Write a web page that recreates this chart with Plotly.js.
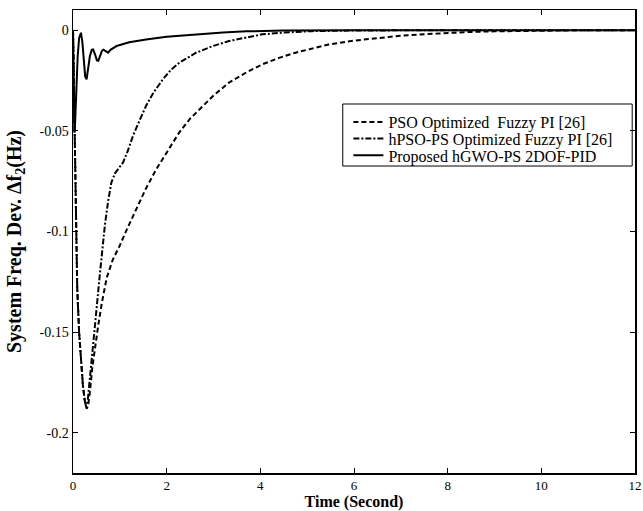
<!DOCTYPE html>
<html>
<head>
<meta charset="utf-8">
<script src="https://cdn.plot.ly/plotly-3.0.1.min.js"></script>
<style>html,body{margin:0;padding:0;background:#fff;}#chart{width:643px;height:511px;}</style>
</head>
<body>
<div id="chart"></div>
<script>
// Proposed hGWO-PS 2DOF-PID (solid)
const tGWO = [0, 0.01, 0.02, 0.03, 0.045, 0.07, 0.1, 0.13, 0.17, 0.2, 0.23, 0.26, 0.29, 0.32, 0.36, 0.4, 0.43, 0.47, 0.51, 0.54, 0.58, 0.62, 0.65, 0.7, 0.75, 0.8, 0.93, 1.2, 1.56, 2.0, 2.63, 3.2, 3.7, 4.5, 6, 8, 10, 12];
const vGWO = [0, -0.02, -0.042, -0.051, -0.046, -0.03, -0.013, -0.004, -0.0013, -0.006, -0.016, -0.023, -0.0245, -0.02, -0.013, -0.0098, -0.0096, -0.012, -0.015, -0.0152, -0.013, -0.0102, -0.0097, -0.0105, -0.0112, -0.0098, -0.0079, -0.006, -0.0046, -0.0033, -0.0021, -0.0012, -0.0006, -0.0002, 0, 0, 0, 0];

// PSO Optimized Fuzzy PI [26] (dashed)
const tPSO = [0, 0.015, 0.03, 0.045, 0.06, 0.09, 0.13, 0.17, 0.21, 0.25, 0.29, 0.32, 0.36, 0.41, 0.47, 0.54, 0.62, 0.72, 0.85, 1.0, 1.15, 1.35, 1.55, 1.78, 2.0, 2.27, 2.5, 2.77, 3.0, 3.33, 3.7, 4.04, 4.4, 4.75, 5.1, 5.46, 6.0, 6.52, 7.0, 7.5, 8.0, 8.5, 9.0, 10, 11, 12];
const vPSO = [0, -0.025, -0.05, -0.075, -0.1, -0.128, -0.15, -0.165, -0.176, -0.184, -0.188, -0.187, -0.18, -0.168, -0.157, -0.1465, -0.135, -0.123, -0.114, -0.107, -0.099, -0.0888, -0.079, -0.069, -0.0605, -0.0508, -0.044, -0.0376, -0.0325, -0.0261, -0.021, -0.017, -0.0138, -0.0112, -0.009, -0.0071, -0.0052, -0.0038, -0.0028, -0.002, -0.0013, -0.0009, -0.0006, -0.0002, 0, 0];

// hPSO-PS Optimized Fuzzy PI [26] (dash-dot)
const tHPSO = [0, 0.015, 0.03, 0.045, 0.06, 0.09, 0.13, 0.17, 0.21, 0.25, 0.28, 0.31, 0.35, 0.4, 0.47, 0.57, 0.68, 0.75, 0.82, 0.9, 1.0, 1.07, 1.17, 1.28, 1.42, 1.56, 1.72, 1.92, 2.1, 2.27, 2.63, 3.0, 3.33, 3.7, 4.04, 4.5, 5.1, 6, 7, 8, 10, 12];
const vHPSO = [0, -0.025, -0.05, -0.075, -0.1, -0.128, -0.15, -0.165, -0.176, -0.184, -0.187, -0.185, -0.176, -0.162, -0.1465, -0.122, -0.097, -0.085, -0.0756, -0.071, -0.068, -0.0657, -0.06, -0.0525, -0.045, -0.0376, -0.031, -0.0244, -0.0195, -0.0162, -0.0112, -0.0078, -0.0054, -0.0035, -0.0021, -0.0012, -0.0005, -0.0002, 0, 0, 0, 0];

const seriesNames = ['PSO Optimized  Fuzzy PI [26]', 'hPSO-PS Optimized Fuzzy PI [26]', 'Proposed hGWO-PS 2DOF-PID'];
const xTickVals = [0, 2, 4, 6, 8, 10, 12];
const xTickText = ['0', '2', '4', '6', '8', '10', '12'];
const yTickVals = [0, -0.05, -0.1, -0.15, -0.2];
const yTickText = ['0', '-0.05', '-0.1', '-0.15', '-0.2'];

const FONT = 'Liberation Serif, Times New Roman, serif';

const traces = [
  {x: tPSO, y: vPSO, name: seriesNames[0], mode: 'lines', legend: 'legend', line: {color: '#000', width: 2, dash: '5px,3px'}},
  {x: tHPSO, y: vHPSO, name: seriesNames[1], mode: 'lines', legend: 'legend2', line: {color: '#000', width: 2, dash: '6px,2px,2px,2px'}},
  {x: tGWO, y: vGWO, name: seriesNames[2], mode: 'lines', legend: 'legend3', line: {color: '#000', width: 2}}
];

const axisCommon = {
  showline: true, linecolor: '#000', linewidth: 1.5, mirror: 'ticks',
  ticks: 'inside', ticklen: 5, tickwidth: 1, tickcolor: '#000',
  showgrid: false, zeroline: false
};

function legendAt(yPaper) {
  return {
    x: 0.49, y: yPaper, xanchor: 'left', yanchor: 'middle',
    borderwidth: 0, bgcolor: 'rgba(0,0,0,0)',
    font: {family: FONT, size: 16, color: '#000'}
  };
}

const layout = {
  width: 643, height: 511,
  margin: {l: 73, r: 8, t: 10, b: 38},
  paper_bgcolor: '#fff', plot_bgcolor: '#fff',
  showlegend: true,
  legend: legendAt(0.758),
  legend2: legendAt(0.722),
  legend3: legendAt(0.686),
  shapes: [{
    type: 'rect', xref: 'paper', yref: 'paper',
    x0: 0.48, x1: 0.995, y0: 0.663, y1: 0.797,
    line: {color: '#000', width: 1}, fillcolor: 'rgba(0,0,0,0)', layer: 'above'
  }],
  xaxis: Object.assign({}, axisCommon, {
    range: [0, 12], tickvals: xTickVals, ticktext: xTickText,
    tickfont: {family: FONT, size: 13, color: '#000'},
    title: {text: 'Time (Second)', font: {family: FONT, size: 16, color: '#000', weight: 'bold'}, standoff: 6}
  }),
  yaxis: Object.assign({}, axisCommon, {
    range: [-0.22, 0.01], tickvals: yTickVals, ticktext: yTickText,
    tickfont: {family: FONT, size: 14, color: '#000'},
    title: {text: 'System Freq. Dev. Δf<sub>2</sub>(Hz)', font: {family: FONT, size: 20, color: '#000', weight: 'bold'}, standoff: 12}
  })
};

Plotly.newPlot('chart', traces, layout, {displayModeBar: false, staticPlot: true});
</script>
</body>
</html>
